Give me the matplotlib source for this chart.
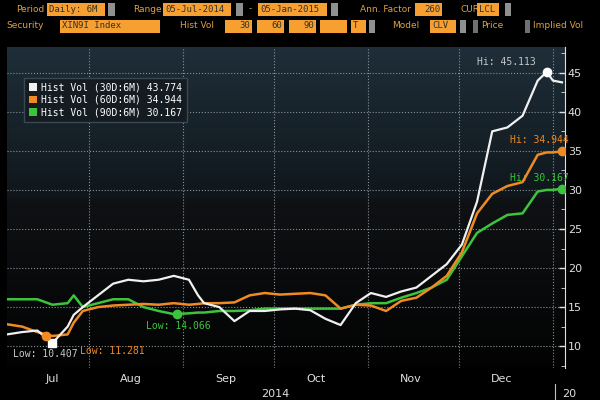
import datetime as dt
import numpy as np
import matplotlib
matplotlib.use("Agg")
import matplotlib.pyplot as plt
import matplotlib.dates as mdates
from matplotlib.patches import Rectangle, Patch

# days after 05-Jul-2014
DAYS = [0, 5, 10, 15, 20, 22, 25, 30, 35, 40, 45, 50, 55, 60, 63, 65, 70, 75, 80,
        85, 90, 95, 100, 105, 110, 115, 120, 125, 130, 135, 140, 145, 150, 155,
        160, 165, 170, 175, 178, 180, 183]
VOL30 = [11.5, 11.8, 12.0, 10.4, 12.5, 14.0, 15.0, 16.5, 18.0, 18.5, 18.3, 18.5, 19.0,
         18.5, 16.5, 15.5, 15.0, 13.2, 14.5, 14.5, 14.7, 14.8, 14.6, 13.5, 12.7, 15.5,
         16.8, 16.3, 17.0, 17.5, 19.0, 20.5, 23.0, 28.5, 37.5, 38.0, 39.5, 44.0, 45.113,
         44.0, 43.774]
VOL60 = [12.8, 12.5, 11.8, 11.3, 11.5, 13.0, 14.5, 15.0, 15.2, 15.3, 15.4, 15.3, 15.5,
         15.3, 15.4, 15.5, 15.5, 15.6, 16.5, 16.8, 16.6, 16.7, 16.8, 16.5, 14.8, 15.3,
         15.2, 14.5, 15.8, 16.2, 17.5, 19.0, 22.0, 27.0, 29.5, 30.5, 31.0, 34.5, 34.8,
         34.8, 34.944]
VOL90 = [16.0, 16.0, 16.0, 15.3, 15.5, 16.5, 15.0, 15.5, 16.0, 16.0, 15.0, 14.5, 14.1,
         14.2, 14.3, 14.3, 14.5, 14.5, 14.6, 14.8, 14.8, 14.8, 14.8, 14.8, 14.8, 15.3,
         15.5, 15.5, 16.2, 16.8, 17.5, 18.5, 21.5, 24.5, 25.7, 26.8, 27.0, 29.8, 30.0,
         30.0, 30.167]
MONTHS = ["Jul", "Aug", "Sep", "Oct", "Nov", "Dec"]

WHITE = "#f0f0f0"
ORANGE = "#f08a24"
GREEN = "#3cc43c"
LBL = "#e0a040"
BOX = "#f5a030"
MONO = "DejaVu Sans Mono"

start = dt.date(2014, 7, 5)
dates = [start + dt.timedelta(days=d) for d in DAYS]

fig = plt.figure(figsize=(6, 4), dpi=100, facecolor="black")
ax = fig.add_axes([7 / 600, 1 - 368 / 400, 558 / 600, 321 / 400])
ylo, yhi = 7.2, 48.3
xlo, xhi = start, start + dt.timedelta(days=184)

# background gradient
grad = np.linspace(0, 1, 300)
top = np.array([0.12, 0.18, 0.22])
mid = np.array([0.06, 0.09, 0.11])
low = np.array([0.06, 0.07, 0.08])
bot = np.array([0.01, 0.01, 0.01])
split = (yhi - 29) / (yhi - ylo)
img = np.zeros((300, 1, 3))
for i, g in enumerate(grad):
    if g < split:
        t = g / split
        img[i, 0] = top * (1 - t) + mid * t
    else:
        t = (g - split) / (1 - split)
        img[i, 0] = low * (1 - t) + bot * t
ax.imshow(img, aspect="auto", extent=[mdates.date2num(xlo), mdates.date2num(xhi), ylo, yhi],
          zorder=0)

ax.plot(dates, VOL90, color=GREEN, lw=1.8, zorder=3)
ax.plot(dates, VOL60, color=ORANGE, lw=1.8, zorder=4)
ax.plot(dates, VOL30, color=WHITE, lw=1.6, zorder=5)

# low / high markers
i_lo30 = int(np.argmin(VOL30)); i_hi30 = int(np.argmax(VOL30))
ax.plot(dates[i_lo30], VOL30[i_lo30], "s", color="white", ms=6, zorder=6)
ax.text(start + dt.timedelta(days=2), 8.6, "Low: 10.407", color="#c8c8c8", fontsize=7,
        family=MONO)
ax.plot(start + dt.timedelta(days=13), 11.281, "o", color=ORANGE, ms=6, zorder=6)
ax.text(start + dt.timedelta(days=24), 9.0, "Low: 11.281", color=ORANGE, fontsize=7,
        family=MONO)
ax.plot(start + dt.timedelta(days=56), 14.066, "o", color=GREEN, ms=6, zorder=6)
ax.text(start + dt.timedelta(days=46), 12.2, "Low: 14.066", color=GREEN, fontsize=7,
        family=MONO)
ax.plot(dates[i_hi30], VOL30[i_hi30], "o", color="white", ms=6, zorder=6)
ax.text(start + dt.timedelta(days=155), 46.0, "Hi: 45.113", color="#c8c8c8", fontsize=7,
        family=MONO)
ax.plot(dates[-1], VOL60[-1], "o", color=ORANGE, ms=6, zorder=6)
ax.text(start + dt.timedelta(days=166), 36.0, "Hi: 34.944", color=ORANGE, fontsize=7,
        family=MONO)
ax.plot(dates[-1], VOL90[-1], "o", color=GREEN, ms=6, zorder=6)
ax.text(start + dt.timedelta(days=166), 31.2, "Hi: 30.167", color=GREEN, fontsize=7,
        family=MONO)

ax.set_xlim(xlo, xhi)
ax.set_ylim(ylo, yhi)
ax.yaxis.tick_right()
ax.set_yticks([10, 15, 20, 25, 30, 35, 40, 45])
ax.set_yticks(np.arange(7.5, 48, 2.5), minor=True)
ax.tick_params(axis="y", colors="#e0e0e0", labelsize=8, direction="in", length=4,
               width=1, pad=2)
ax.tick_params(axis="y", which="minor", direction="in", length=3, color="#e0e0e0")
month_starts = [dt.date(2014, m, 1) for m in (8, 9, 10, 11, 12)] + [dt.date(2015, 1, 1)]
ax.set_xticks(month_starts)
ax.set_xticklabels([])
ax.set_xticks([dt.date(2014, 7, 20)] + [dt.date(2014, m, 15) for m in (8, 9, 10, 11, 12)],
              minor=True)
ax.set_xticklabels(MONTHS, minor=True)
ax.tick_params(axis="x", which="minor", length=0, colors="#e0e0e0", labelsize=8, pad=4)
ax.tick_params(axis="x", which="major", length=0)
ax.grid(True, which="major", color="#8a9098", ls=":", lw=0.8)
for s in ("top", "left", "bottom"):
    ax.spines[s].set_visible(False)
ax.spines["right"].set_color("#e0e0e0")
fig.text(275 / 600, 1 - 394 / 400, "2014", color="#e0e0e0", fontsize=8, ha="center",
         va="center")
fig.text(562 / 600, 1 - 394 / 400, "20", color="#e0e0e0", fontsize=8, ha="left", va="center")
fig.add_artist(plt.Line2D([555 / 600, 555 / 600], [0, 1 - 384 / 400], color="#c0c0c0", lw=0.8))

handles = [Patch(facecolor=WHITE, edgecolor="none"), Patch(facecolor=ORANGE, edgecolor="none"),
           Patch(facecolor=GREEN, edgecolor="none")]
labels = ["Hist Vol (30D:6M) 43.774", "Hist Vol (60D:6M) 34.944", "Hist Vol (90D:6M) 30.167"]
leg = ax.legend(handles, labels, loc="upper left", bbox_to_anchor=(0.022, 0.92),
                facecolor="#141c22", edgecolor="#3a4650", framealpha=1, fontsize=7,
                handlelength=0.8, handleheight=0.8, handletextpad=0.4, borderpad=0.5,
                labelspacing=0.25, fancybox=False)
for t in leg.get_texts():
    t.set_color("white")
    t.set_family(MONO)


# header panel
def box(x0, x1, y, text="", color=BOX, align="left"):
    h = 13
    fig.add_artist(Rectangle((x0 / 600, 1 - (y + h / 2) / 400), (x1 - x0) / 600, h / 400,
                             transform=fig.transFigure, facecolor=color, edgecolor="none"))
    if text:
        xt = x0 + 2 if align == "left" else x1 - 2
        fig.text(xt / 600, 1 - y / 400, text, color="#303030", fontsize=6.5,
                 ha=align, va="center", family=MONO)


def label(x, y, text):
    fig.text(x / 600, 1 - y / 400, text, color=LBL, fontsize=6.5, ha="left", va="center")


r1, r2 = 9, 26
label(16, r1, "Period"); box(47, 105, r1, "Daily: 6M"); box(108, 115, r1, color="#909090")
label(133, r1, "Range"); box(163, 231, r1, "05-Jul-2014"); box(236, 243, r1, color="#909090")
label(249, r1, "-"); box(258, 327, r1, "05-Jan-2015"); box(331, 338, r1, color="#909090")
label(360, r1, "Ann. Factor"); box(415, 442, r1, "260", align="right")
label(460, r1, "CUR"); box(477, 499, r1, "LCL"); box(505, 511, r1, color="#909090")
label(6, r2, "Security"); box(60, 160, r2, "XIN9I Index")
label(180, r2, "Hist Vol"); box(225, 252, r2, "30", align="right")
box(257, 284, r2, "60", align="right"); box(289, 316, r2, "90", align="right")
box(320, 347, r2); box(351, 366, r2, "T"); box(369, 375, r2, color="#909090")
label(392, r2, "Model"); box(430, 456, r2, "CLV"); box(460, 466, r2, color="#909090")
box(473, 478, r2, color="#707070"); label(481, r2 - 1, "Price")
box(525, 530, r2, color="#707070"); label(533, r2 - 1, "Implied Vol")

fig.savefig("out.png", dpi=100, facecolor="black")
